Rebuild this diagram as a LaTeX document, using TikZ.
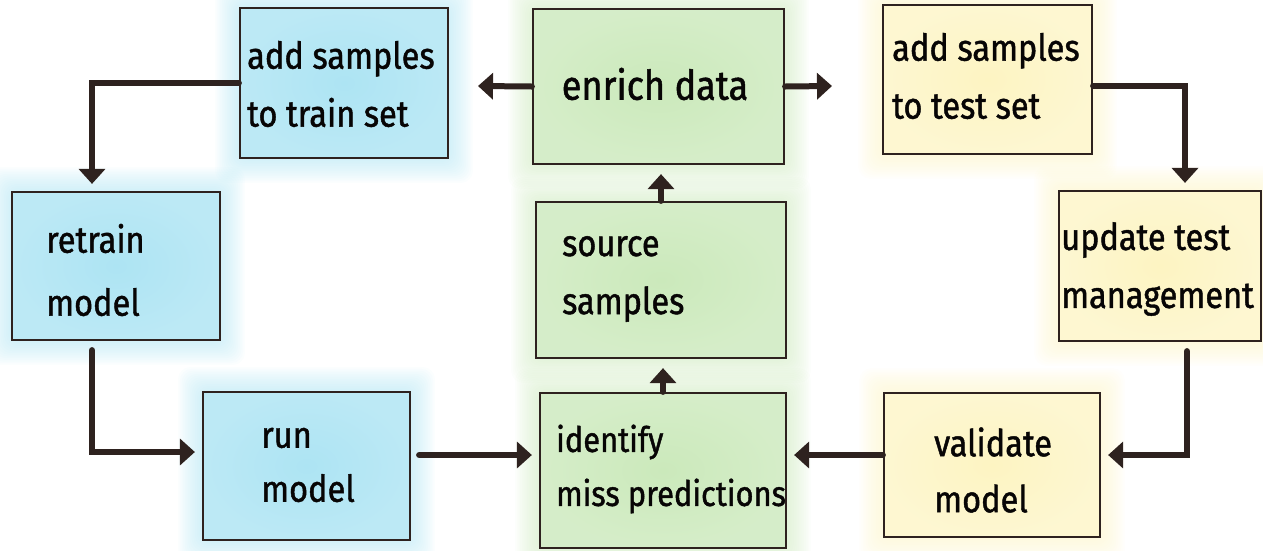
\documentclass[tikz,border=0pt]{standalone}
\usepackage{fontspec}
\setmainfont{Fira Sans}[FakeStretch=0.88,FakeBold=1.2]
\usetikzlibrary{arrows.meta,backgrounds,calc}
\definecolor{ink}{HTML}{2E221F}
\definecolor{skyfill}{HTML}{ADE4F3}
\definecolor{leaffill}{HTML}{CBE9BB}
\definecolor{sunfill}{HTML}{FDF4C2}

% soft coloured halo around a box, drawn behind it
\newcommand\haloaround[2]{%
  \begin{pgfonlayer}{background}
    \foreach \k in {1,...,14}{%
      \fill[#2, opacity=0.05, rounded corners=12pt]
        ($(#1.north west)+(-1.7*\k,-1.7*\k)$) rectangle ($(#1.south east)+(1.7*\k,1.7*\k)$);
    }
  \end{pgfonlayer}}

\begin{document}
\begin{tikzpicture}[x=1pt,y=-1pt,
  box/.style={draw=ink, line width=2.2pt, inner sep=0pt},
  sky/.style={box, inner color=skyfill, outer color=skyfill!82!white},
  leaf/.style={box, inner color=leaffill, outer color=leaffill!80!white},
  sun/.style={box, inner color=sunfill, outer color=sunfill!75!white},
  lbl/.style={text=black!85!ink, align=left, inner sep=0pt, anchor=west,
              font=\fontsize{37}{58}\selectfont},
  conn/.style={draw=ink, line width=6pt, line cap=round,
               -{Triangle[length=15pt,width=26pt]}, shorten >=7pt}]

\useasboundingbox (0,0) rectangle (1263,550);

% boxes
\node[sky,  minimum width=208pt, minimum height=150pt] (train)    at (344,83)    {};
\node[leaf, minimum width=251pt, minimum height=155pt] (enrich)   at (658.5,86.5) {};
\node[sun,  minimum width=209pt, minimum height=149pt] (testset)  at (987.5,79.5) {};
\node[sky,  minimum width=208pt, minimum height=148pt] (retrain)  at (116,266)   {};
\node[leaf, minimum width=250pt, minimum height=156pt] (source)   at (661,280)   {};
\node[sun,  minimum width=202pt, minimum height=150pt] (update)   at (1160,266)  {};
\node[sky,  minimum width=207pt, minimum height=148pt] (run)      at (306.5,466) {};
\node[leaf, minimum width=246pt, minimum height=155pt] (identify) at (663,470.5) {};
\node[sun,  minimum width=216pt, minimum height=144pt] (validate) at (992,465)   {};

\haloaround{train}{skyfill}
\haloaround{retrain}{skyfill}
\haloaround{run}{skyfill}
\haloaround{enrich}{leaffill}
\haloaround{source}{leaffill}
\haloaround{identify}{leaffill}
\haloaround{testset}{sunfill}
\haloaround{update}{sunfill}
\haloaround{validate}{sunfill}

% labels
\node[lbl] (trainT)    at (247,84)   {add samples\\to train set};
\node[lbl, anchor=center, font=\fontsize{41}{58}\selectfont] (enrichT) at (655,84) {enrich data};
\node[lbl] (testT)     at (892,76)   {add samples\\to test set};
\node[lbl, font=\fontsize{37}{63}\selectfont] (retrainT) at (46,270) {retrain\\model};
\node[lbl] (sourceT)   at (562,279)  {source\\samples};
\node[lbl] (updateT)   at (1061,269) {update test\\management};
\node[lbl, font=\fontsize{37}{54}\selectfont] (runT)      at (261,465) {run\\model};
\node[lbl, font=\fontsize{35}{54}\selectfont] (identifyT) at (556,469) {identify\\miss predictions};
\node[lbl, font=\fontsize{37}{56}\selectfont] (validateT) at (934,470) {validate\\model};

% connector way points
\coordinate (eL) at (478,86);
\coordinate (eR) at (832,86);
\coordinate (t1) at ([yshift=-6pt]testset.east);
\coordinate (v1) at ([yshift=10pt]validate.west);
\coordinate (v2) at ([yshift=10pt]validate.east);
\coordinate (r1) at ([yshift=14pt]run.west);
\coordinate (r2) at ([yshift=11pt]run.east);

% connectors
\draw[conn] (train.west) -| ([xshift=-24pt]retrain.north);
\draw[conn, shorten >=0pt] (enrich.west) -- (eL);
\draw[conn, shorten >=0pt] (enrich.east) -- (eR);
\draw[conn] (t1) -| ([xshift=25pt]update.north);
\draw[conn, shorten <=9pt] ([xshift=27pt]update.south) |- (v2);
\draw[conn] (v1) -- (v1 -| identify.east);
\draw[conn, shorten >=9pt] (identify.north) -- (identify.north |- source.south);
\draw[conn, shorten >=9pt] (source.north) -- (source.north |- enrich.south);
\draw[conn, shorten <=9pt] ([xshift=-24pt]retrain.south) |- (r1);
\draw[conn, shorten <=8pt] (r2) -- (r2 -| identify.west);
\end{tikzpicture}
\end{document}
